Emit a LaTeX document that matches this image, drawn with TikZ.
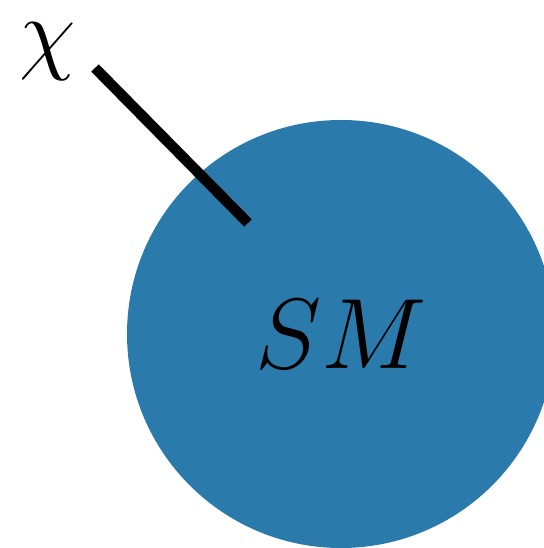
\documentclass[tikz,border=0pt]{standalone}
\usepackage{xcolor}
\usepackage{tikz}
\usetikzlibrary{positioning,calc}

\definecolor{smblue}{RGB}{43,122,172}

\begin{document}
\begin{tikzpicture}[
  x=1pt, y=1pt,
  bigtext/.style={font=\Huge, inner sep=0pt},
  blob/.style={
    circle, fill=smblue, draw=none,
    minimum size=428pt, inner sep=0pt,
    font=\Huge
  },
  leg/.style={line width=10.5pt, black, line cap=butt}
]
  \useasboundingbox (0,0) rectangle (543,548);

  % sector blob and its label
  \node[blob] (sm) at (341,214) {\scalebox{4.02}{$SM$}};
  \node[bigtext] (chi) at (48,496) {\scalebox{3.7}{$\chi$}};

  % external leg
  \coordinate (legout) at (95,480);
  \coordinate (legin) at (248,325);
  \draw[leg] (legout) -- (legin);
\end{tikzpicture}
\end{document}
